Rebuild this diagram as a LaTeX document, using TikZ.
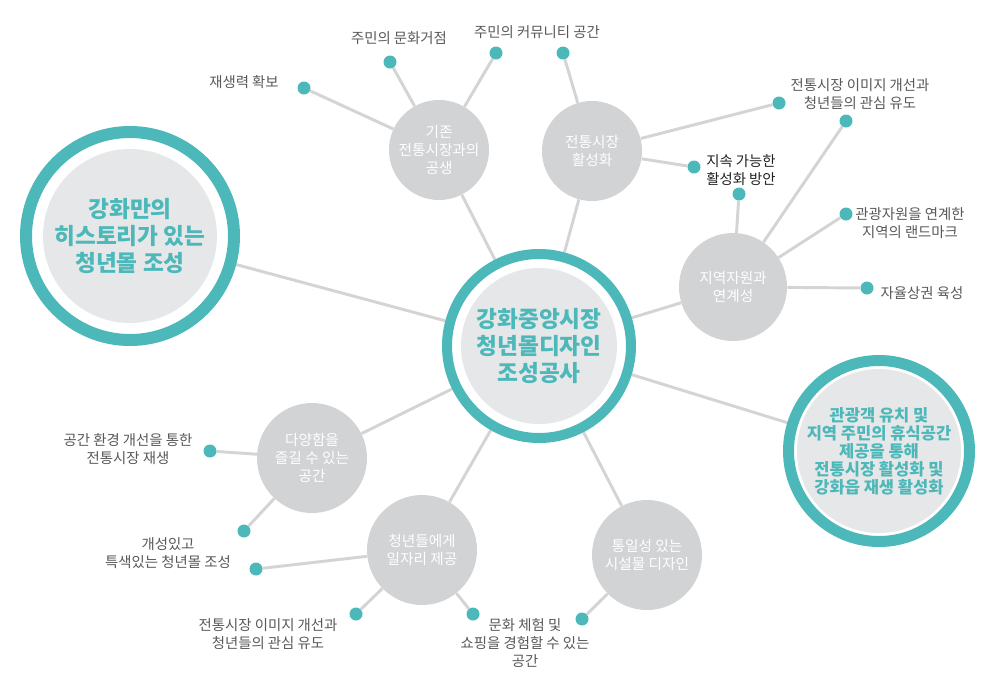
\documentclass[tikz,border=0pt]{standalone}
\usepackage{fontspec}
\setmainfont{Noto Sans CJK KR}
\definecolor{teal1}{HTML}{4DB8BA}
\definecolor{cgray}{HTML}{D1D3D4}
\definecolor{igray}{HTML}{E6E7E8}
\definecolor{lgray}{HTML}{D4D4D4}
\definecolor{ltext}{HTML}{595959}
\definecolor{dtext}{HTML}{222222}
\pgfdeclarelayer{back}
\pgfdeclarelayer{lines}
\pgfsetlayers{back,lines,main}
\begin{document}
\begin{tikzpicture}[x=0.75pt,y=-0.75pt,
  conn/.style={draw=lgray,line width=2.2pt},
  graycirc/.style={circle,fill=cgray,draw=none,inner sep=0pt,text=white,
    font=\fontsize{11}{13.5}\selectfont,align=center},
  tdot/.style={circle,fill=teal1,draw=none,inner sep=0pt,minimum size=9.75pt},
  lab/.style={text=ltext,font=\fontsize{10.8}{13.5}\selectfont,align=center,inner sep=0pt},
  ringnode/.style={circle,draw=teal1,fill=white,inner sep=0pt,text=teal1,align=center},
]
\begin{pgfonlayer}{back}
\fill[white] (0,0) rectangle (981,683);
\end{pgfonlayer}
\useasboundingbox (0,0) rectangle (981,683);

% big ring nodes
\node[ringnode,line width=7.5pt,minimum size=138pt,
  font=\fontsize{17}{20}\selectfont\bfseries,
  path picture={\fill[igray] (path picture bounding box.center) circle (58.5pt);}]
  (C) at (539,346) {강화중앙시장\\청년몰디자인\\조성공사};
\node[ringnode,line width=9pt,minimum size=156pt,
  font=\fontsize{17}{20}\selectfont\bfseries,
  path picture={\fill[igray] (path picture bounding box.center) circle (65.25pt);}]
  (L) at (130,236) {강화만의\\히스토리가 있는\\청년몰 조성};
\node[ringnode,line width=8.25pt,minimum size=135.75pt,
  font=\fontsize{12.4}{13.5}\selectfont\bfseries,
  path picture={\fill[igray] (path picture bounding box.center) circle (61.5pt);}]
  (R) at (879,451) {관광객 유치 및\\지역 주민의 휴식공간\\제공을 통해\\전통시장 활성화 및\\강화읍 재생 활성화};

% gray circles
\node[graycirc,minimum size=75pt] (G1) at (439,150) {기존\\전통시장과의\\공생};
\node[graycirc,minimum size=75pt] (G2) at (592,151) {전통시장\\활성화};
\node[graycirc,minimum size=81pt] (G3) at (733,287) {지역자원과\\연계성};
\node[graycirc,minimum size=82.5pt] (G4) at (312,458) {다양함을\\즐길 수 있는\\공간};
\node[graycirc,minimum size=82.5pt] (G5) at (422,550) {청년들에게\\일자리 제공};
\node[graycirc,minimum size=82.5pt] (G6) at (647,555) {통일성 있는\\시설물 디자인};

% dots
\node[tdot] (d1) at (304,88) {};
\node[tdot] (d2) at (390,62) {};
\node[tdot] (d3) at (496,53) {};
\node[tdot] (d4) at (563,53) {};
\node[tdot] (d5) at (779,103) {};
\node[tdot] (d6) at (694,167) {};
\node[tdot] (d7) at (739,194) {};
\node[tdot] (d8) at (846,121) {};
\node[tdot] (d9) at (846,214) {};
\node[tdot] (d10) at (867,288) {};
\node[tdot] (d11) at (210,451) {};
\node[tdot] (d12) at (244,531) {};
\node[tdot] (d13) at (256,569) {};
\node[tdot] (d14) at (356,614) {};
\node[tdot] (d15) at (473,614) {};
\node[tdot] (d16) at (582,619) {};

% labels
\node[lab] (t1) at (244,82) {재생력 확보};
\node[lab] (t2) at (399,38) {주민의 문화거점};
\node[lab] (t3) at (537,32) {주민의 커뮤니티 공간};
\node[lab] (t5) at (860,94) {전통시장 이미지 개선과\\청년들의 관심 유도};
\node[lab,text=dtext] (t6) at (741,170) {지속 가능한\\활성화 방안};
\node[lab] (t9) at (910,223) {관광자원을 연계한\\지역의 랜드마크};
\node[lab] (t10) at (922,293) {자율상권 육성};
\node[lab] (t11) at (128,449) {공간 환경 개선을 통한\\전통시장 재생};
\node[lab] (t13) at (168,553) {개성있고\\특색있는 청년몰 조성};
\node[lab] (t14) at (268,634) {전통시장 이미지 개선과\\청년들의 관심 유도};
\node[lab] (t15) at (525,643) {문화 체험 및\\쇼핑을 경험할 수 있는\\공간};

% connectors
\begin{pgfonlayer}{lines}
\foreach \g in {L,R,G1,G2,G3,G4,G5,G6}{\draw[conn] (C) -- (\g);}
\draw[conn] (G1) -- (d1);
\draw[conn] (G1) -- (d2);
\draw[conn] (G1) -- (d3);
\draw[conn] (G2) -- (d4);
\draw[conn] (G2) -- (d5);
\draw[conn] (G2) -- (d6);
\draw[conn] (G3) -- (d7);
\draw[conn] (G3) -- (d8);
\draw[conn] (G3) -- (d9);
\draw[conn] (G3) -- (d10);
\draw[conn] (G4) -- (d11);
\draw[conn] (G4) -- (d12);
\draw[conn] (G5) -- (d13);
\draw[conn] (G5) -- (d14);
\draw[conn] (G5) -- (d15);
\draw[conn] (G6) -- (d16);
\end{pgfonlayer}
\end{tikzpicture}
\end{document}
